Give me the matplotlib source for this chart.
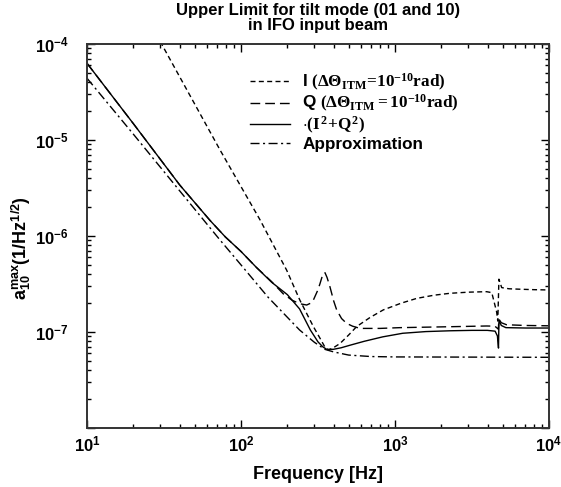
import matplotlib
matplotlib.use("Agg")
import matplotlib.pyplot as plt

# шрифты: всё жирным, формулы в легенде - жирный serif
plt.rcParams['font.family'] = ['Liberation Sans', 'DejaVu Sans']
plt.rcParams['font.weight'] = 'bold'
plt.rcParams['mathtext.fontset'] = 'custom'
plt.rcParams['mathtext.rm'] = 'Liberation Serif:bold'
plt.rcParams['mathtext.it'] = 'Liberation Serif:bold'
plt.rcParams['mathtext.bf'] = 'Liberation Serif:bold'

# ДАННЫЕ
# I, dTheta_ITM = 1e-10 rad
f_I = [25, 30.5, 73, 133, 198, 241, 295, 330, 350, 369, 395, 440, 500, 564, 690,
       840, 1100, 1384, 1800, 2275, 3000, 3936, 4250, 4570, 4650, 4730, 4930, 5500,
       6490, 8000, 10000]
a_I = [1.8e-4, 1.0e-4, 7.9e-6, 1.47e-6, 4.4e-7, 2.15e-7, 1.14e-7, 8.3e-8, 7.0e-8,
       6.5e-8, 6.8e-8, 7.6e-8, 9.3e-8, 1.14e-7, 1.42e-7,
       1.7e-7, 2.0e-7, 2.24e-7, 2.42e-7, 2.53e-7, 2.6e-7, 2.63e-7, 2.57e-7, 1.62e-7,
       1.3e-7, 3.55e-7, 2.9e-7, 2.82e-7, 2.79e-7, 2.76e-7, 2.74e-7]

# Q, dTheta_ITM = 1e-10 rad
f_Q = [10, 20, 40, 63, 79, 100, 126, 158, 188, 215, 241, 267, 284, 295, 316, 326,
       340, 351, 362, 378, 400, 418, 450, 485, 530, 593, 800, 1076, 2275, 3936,
       4450, 4600, 4690, 4730, 4900, 5300, 7000, 10000]
a_Q = [6.3e-5, 1.48e-5, 3.4e-6, 1.45e-6, 9.8e-7, 6.9e-7, 4.7e-7, 3.35e-7, 2.5e-7,
       2.14e-7, 1.97e-7, 1.91e-7, 2.0e-7, 2.15e-7, 2.75e-7, 3.2e-7, 4.0e-7, 4.15e-7,
       3.7e-7, 2.96e-7, 2.1e-7, 1.7e-7, 1.38e-7, 1.23e-7, 1.15e-7, 1.09e-7, 1.09e-7,
       1.11e-7, 1.135e-7, 1.155e-7, 1.15e-7, 1.1e-7, 1.07e-7, 1.36e-7, 1.25e-7,
       1.19e-7, 1.17e-7, 1.16e-7]

# sqrt(I^2+Q^2)
f_S = [10, 20, 40, 63, 79, 100, 126, 158, 200, 240, 282, 316, 340, 360, 398, 447,
       513, 631, 832, 1122, 1585, 2290, 3162, 3981, 4467, 4624, 4699, 4732, 4898,
       5248, 7079, 10000]
a_S = [6.3e-5, 1.48e-5, 3.4e-6, 1.45e-6, 9.8e-7, 6.9e-7, 4.7e-7, 3.3e-7, 2.45e-7,
       1.74e-7, 1.05e-7, 7.9e-8, 7.0e-8, 6.6e-8, 6.6e-8, 6.85e-8, 7.3e-8, 8.0e-8,
       8.9e-8, 9.7e-8, 1.01e-7, 1.03e-7, 1.04e-7, 1.04e-7, 1.02e-7, 9.1e-8, 6.8e-8,
       1.33e-7, 1.17e-7, 1.11e-7, 1.1e-7, 1.1e-7]

# Approximation
f_A = [10, 20, 40, 73, 100, 150, 240, 300, 350, 400, 500, 700, 1000, 10000]
a_A = [4.4e-5, 1.15e-5, 2.95e-6, 9.1e-7, 5.0e-7, 2.3e-7, 1.05e-7, 7.8e-8, 6.6e-8,
       6.2e-8, 5.75e-8, 5.55e-8, 5.5e-8, 5.45e-8]

y_ticks = [1e-8, 1e-7, 1e-6, 1e-5, 1e-4]
y_labels = ['', r'$\mathdefault{10^{-7}}$', r'$\mathdefault{10^{-6}}$',
            r'$\mathdefault{10^{-5}}$', r'$\mathdefault{10^{-4}}$']

fig = plt.figure(figsize=(5.61, 4.87), dpi=100)
ax = fig.add_axes([87/561, 1-428/487, 462/561, 384/487])

lw = 1.0
ax.plot(f_I, a_I, color='k', lw=lw, dashes=(3.6, 2.4),
        label=r'I $(\Delta\Theta_{\rm ITM}\!=\!10^{-10}{\rm rad)}$')
ax.plot(f_Q, a_Q, color='k', lw=lw, dashes=(7, 3.6),
        label=r'Q $(\Delta\Theta_{\rm ITM} = 10^{-10}{\rm rad)}$')
ax.plot(f_S, a_S, color='k', lw=lw, label=r'$\cdot(I^2\!+\!Q^2)$')
ax.plot(f_A, a_A, color='k', lw=lw, dashes=(6.5, 2.5, 1.5, 2.5),
        label='Approximation')

ax.set_xscale('log')
ax.set_yscale('log')
ax.set_xlim(10, 1e4)
ax.set_ylim(1e-8, 1e-4)
ax.set_yticks(y_ticks)
ax.set_yticklabels(y_labels)

# тики внутрь со всех сторон
ax.tick_params(which='both', direction='in', top=True, right=True, width=1)
ax.tick_params(which='major', length=6, labelsize=12)
ax.tick_params(axis='y', which='major', pad=13)
ax.tick_params(axis='x', which='major', pad=5)
ax.tick_params(which='minor', length=3)
for s in ax.spines.values():
    s.set_linewidth(1.4)
    s.set_color('#333333')

ax.set_xlabel('Frequency [Hz]', fontsize=13, fontweight='bold', labelpad=8)
ax.set_ylabel(r'a$_{\mathdefault{10}}^{\mathdefault{max}}$(1/Hz$^{\mathdefault{1/2}}$)',
              fontsize=13, fontweight='bold')
ax.yaxis.set_label_coords(-0.117, 0.469)
ax.set_title('Upper Limit for tilt mode (01 and 10)\nin IFO input beam',
             fontsize=12, fontweight='bold', linespacing=1.0, pad=10)

leg = ax.legend(loc='upper left', bbox_to_anchor=(0.353, 0.928), frameon=False,
                fontsize=12.3, handlelength=2.35, handletextpad=0.7,
                labelspacing=0.03, borderpad=0, borderaxespad=0)

fig.savefig('out.png', dpi=100)
